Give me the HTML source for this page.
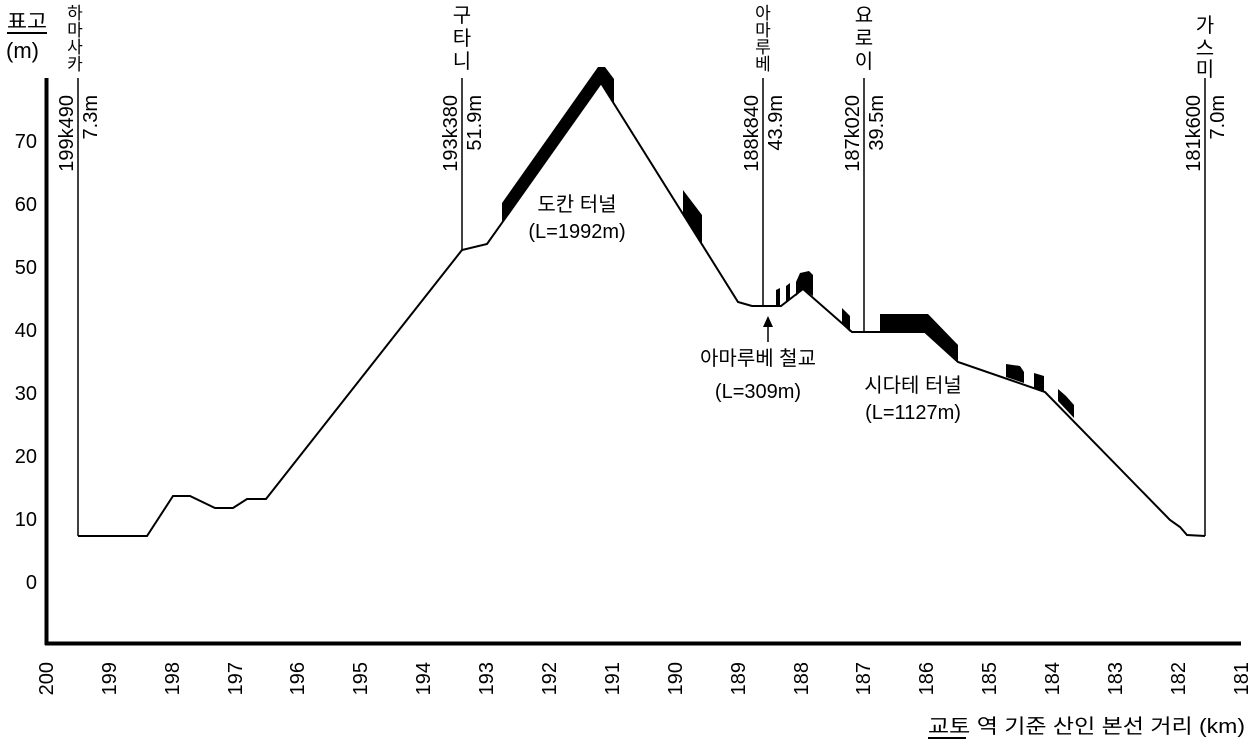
<!DOCTYPE html>
<html><head><meta charset="utf-8"><style>
html,body{margin:0;padding:0;background:#fff;}
svg{display:block;font-family:"Liberation Sans","Noto Sans CJK KR",sans-serif;}
</style></head><body>
<svg width="1258" height="748" viewBox="0 0 1258 748" xmlns="http://www.w3.org/2000/svg">
<rect width="1258" height="748" fill="#fff"/>
<line x1="46.5" y1="78" x2="46.5" y2="645" stroke="#000" stroke-width="4"/>
<line x1="45" y1="643.5" x2="1241" y2="643.5" stroke="#000" stroke-width="4"/>
<g font-size="20" text-anchor="end" fill="#000">
<text x="37" y="148">70</text><text x="37" y="211">60</text><text x="37" y="274">50</text>
<text x="37" y="337">40</text><text x="37" y="400">30</text><text x="37" y="463">20</text>
<text x="37" y="526">10</text><text x="37" y="589">0</text>
</g>
<text x="7" y="28" font-size="20" textLength="40" lengthAdjust="spacingAndGlyphs">표고</text>
<line x1="7" y1="33" x2="47" y2="33" stroke="#000" stroke-width="2"/>
<text x="6" y="58" font-size="22">(m)</text>
<g font-size="20" text-anchor="end">
<text transform="translate(53,662) rotate(-90)">200</text>
<text transform="translate(116,662) rotate(-90)">199</text>
<text transform="translate(179,662) rotate(-90)">198</text>
<text transform="translate(242,662) rotate(-90)">197</text>
<text transform="translate(304,662) rotate(-90)">196</text>
<text transform="translate(367,662) rotate(-90)">195</text>
<text transform="translate(430,662) rotate(-90)">194</text>
<text transform="translate(493,662) rotate(-90)">193</text>
<text transform="translate(556,662) rotate(-90)">192</text>
<text transform="translate(619,662) rotate(-90)">191</text>
<text transform="translate(682,662) rotate(-90)">190</text>
<text transform="translate(745,662) rotate(-90)">189</text>
<text transform="translate(808,662) rotate(-90)">188</text>
<text transform="translate(870,662) rotate(-90)">187</text>
<text transform="translate(933,662) rotate(-90)">186</text>
<text transform="translate(996,662) rotate(-90)">185</text>
<text transform="translate(1059,662) rotate(-90)">184</text>
<text transform="translate(1122,662) rotate(-90)">183</text>
<text transform="translate(1185,662) rotate(-90)">182</text>
<text transform="translate(1248,662) rotate(-90)">181</text>
</g>
<text x="928" y="733" font-size="20" textLength="317" lengthAdjust="spacingAndGlyphs">교토 역 기준 산인 본선 거리 (km)</text>
<line x1="928" y1="738" x2="966" y2="738" stroke="#000" stroke-width="2"/>
<g fill="#000">
<polygon points="502,223 502,203 598,67 605,67 614,79 614,104 601,83"/>
<polygon points="683,190 702,215 702,244 683,214"/>
<polygon points="776,290 780,288 780,306 776,306"/>
<polygon points="786,286 790,283 790,298 786,302"/>
<polygon points="796,282 800,273 809,271 813,275 813,296 803,289 796,296"/>
<polygon points="842,308 850,316 850,332 842,324"/>
<polygon points="880,314 928,314 958,345 958,362 925,332 880,332"/>
<polygon points="1006,364 1020,366 1024,372 1024,383 1006,377"/>
<polygon points="1034,373 1044,376 1044,391 1034,388"/>
<polygon points="1058,389 1066,396 1074,405 1074,418 1058,401"/>
</g>
<polyline fill="none" stroke="#000" stroke-width="2" points="78,536 147,536 173,496 190,496 215,508 233,508 247,499 266,499 462,250 487,244 601,83 738,302 752,306 781,306 803,289 852,332 925,332 958,362 1045,392 1170,520 1180,527 1187,535 1205,536"/>
<g stroke="#000" stroke-width="1.5">
<line x1="78" y1="78" x2="78" y2="536"/>
<line x1="462" y1="78" x2="462" y2="250"/>
<line x1="763" y1="78" x2="763" y2="306"/>
<line x1="864" y1="78" x2="864" y2="332"/>
<line x1="1205" y1="78" x2="1205" y2="536"/>
</g>
<g font-size="20" text-anchor="end">
<text transform="translate(73,95) rotate(-90)">199k490</text>
<text transform="translate(97,95) rotate(-90)">7.3m</text>
<text transform="translate(457,95) rotate(-90)">193k380</text>
<text transform="translate(481,95) rotate(-90)">51.9m</text>
<text transform="translate(758,95) rotate(-90)">188k840</text>
<text transform="translate(782,95) rotate(-90)">43.9m</text>
<text transform="translate(859,95) rotate(-90)">187k020</text>
<text transform="translate(883,95) rotate(-90)">39.5m</text>
<text transform="translate(1200,95) rotate(-90)">181k600</text>
<text transform="translate(1224,95) rotate(-90)">7.0m</text>
</g>
<g font-size="17" text-anchor="middle">
<text x="75" y="19">하</text><text x="75" y="36">마</text><text x="75" y="53">사</text><text x="75" y="70">카</text>
<text x="763" y="19">아</text><text x="763" y="36">마</text><text x="763" y="53">루</text><text x="763" y="70">베</text>
</g>
<g font-size="20" text-anchor="middle">
<text x="462" y="22">구</text><text x="462" y="45">타</text><text x="462" y="68">니</text>
<text x="864" y="22">요</text><text x="864" y="45">로</text><text x="864" y="68">이</text>
<text x="1205" y="32">가</text><text x="1205" y="55">스</text><text x="1205" y="76">미</text>
</g>
<g font-size="20" text-anchor="middle">
<text x="577" y="211">도칸 터널</text>
<text x="577" y="238">(L=1992m)</text>
<text x="758" y="365">아마루베 철교</text>
<text x="758" y="398">(L=309m)</text>
<text x="913" y="392">시다테 터널</text>
<text x="913" y="419">(L=1127m)</text>
</g>
<line x1="768" y1="320" x2="768" y2="342" stroke="#000" stroke-width="1.5"/>
<polygon points="768,316 763,327 773,327" fill="#000"/>
</svg>
</body></html>
